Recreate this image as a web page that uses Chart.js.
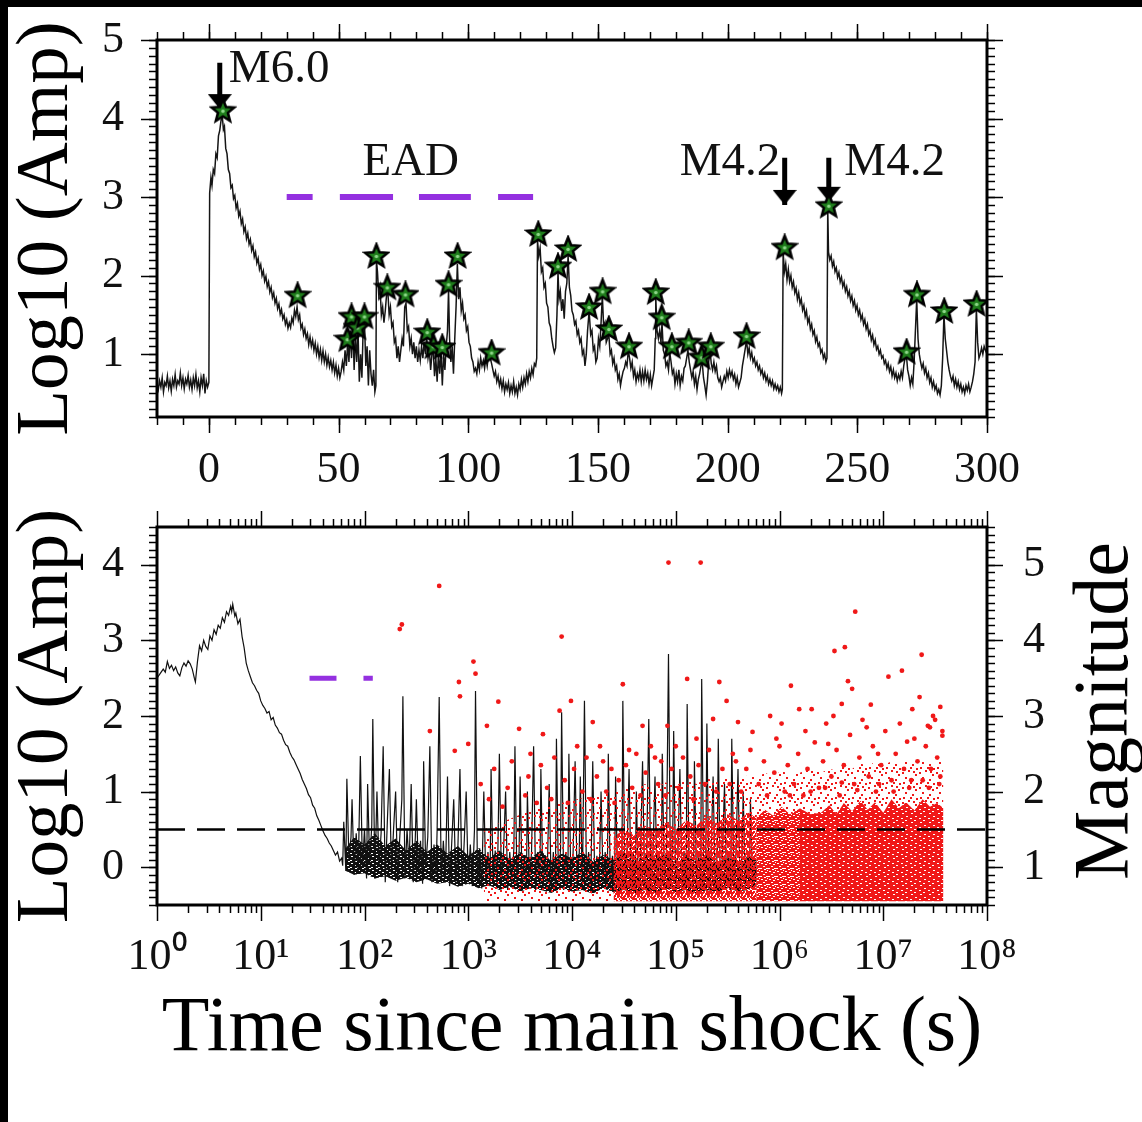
<!DOCTYPE html>
<html>
<head>
<meta charset="utf-8">
<script src="https://cdn.jsdelivr.net/npm/chart.js"></script>
<style>
html, body { margin: 0; padding: 0; background: #fff; }
#page { position: relative; width: 1142px; height: 1122px; overflow: hidden; background: #fff; }
canvas { position: absolute; left: 0; }
#mag { position: absolute; left: 1101px; top: 711px; transform: translate(-50%, -50%) rotate(-90deg);
       font: 78px 'Liberation Serif', serif; line-height: 1; white-space: nowrap; color: #000; }
.edge { position: absolute; background: #000; }
</style>
</head>
<body>
<div id="page">
  <canvas id="upper" width="1142" height="500" style="top:0"></canvas>
  <canvas id="lower" width="1142" height="652" style="top:470px"></canvas>
  <div id="mag">Magnitude</div>
  <div class="edge" style="left:0;top:0;width:1142px;height:7px"></div>
  <div class="edge" style="left:0;top:0;width:8px;height:1122px"></div>
</div>
<script>
// ---- upper panel: amplitude vs time (s), linear axis ----
// [time s, log10 amp]
const topTrace = [
  [-20,0.62],[-19.5,0.55],[-19,0.66],[-18.5,0.58],[-18,0.7],[-17.5,0.52],[-17,0.64],[-16.5,0.6],[-16,0.72],[-15.5,0.57],
  [-15,0.66],[-14.5,0.53],[-14,0.68],[-13.5,0.6],[-13,0.74],[-12.5,0.58],[-12,0.66],[-11.5,0.62],[-11,0.76],[-10.5,0.6],
  [-10,0.7],[-9.5,0.56],[-9,0.68],[-8.5,0.62],[-8,0.73],[-7.5,0.58],[-7,0.67],[-6.5,0.55],[-6,0.7],[-5.5,0.6],
  [-5,0.74],[-4.5,0.57],[-4,0.66],[-3.5,0.52],[-3,0.7],[-2.5,0.6],[-2,0.75],[-1.5,0.5],[-1,0.66],[-0.5,0.58],[0,0.64],
  [0.3,3.05],[0.8,3.25],[1.2,3.15],[1.7,3.35],[2.2,3.3],[2.7,3.55],[3.2,3.5],[3.7,3.78],[4.2,3.85],[4.7,3.98],
  [5.2,4.02],[5.6,3.86],[6,3.9],[6.5,3.62],[7,3.55],[7.5,3.35],[8,3.3],[8.5,3.12],[9,3.15],[9.5,2.98],
  [10,3.02],[10.5,2.86],[11,2.92],[11.5,2.76],[12,2.82],[12.5,2.66],[13,2.72],[13.5,2.56],[14,2.62],[14.5,2.47],
  [15,2.54],[15.5,2.4],[16,2.46],[16.5,2.32],[17,2.38],[17.5,2.24],[18,2.3],[18.5,2.16],[19,2.22],[19.5,2.08],
  [20,2.14],[20.5,2.0],[21,2.06],[21.5,1.93],[22,1.99],[22.5,1.86],[23,1.92],[23.5,1.79],[24,1.85],[24.5,1.72],
  [25,1.78],[25.5,1.65],[26,1.71],[26.5,1.58],[27,1.64],[27.5,1.51],[28,1.57],[28.5,1.45],[29,1.5],[29.5,1.38],
  [30,1.44],[30.5,1.33],[31,1.4],[31.5,1.34],[32,1.46],[32.5,1.4],[33,1.56],[33.5,1.48],[34,1.6],[34.5,1.44],
  [35,1.5],[35.5,1.33],[36,1.38],[36.5,1.25],[37,1.32],[37.5,1.2],[38,1.26],[38.5,1.12],[39,1.22],[39.5,1.1],
  [40,1.18],[40.5,1.05],[41,1.14],[41.5,1.0],[42,1.1],[42.5,0.96],[43,1.06],[43.5,0.92],[44,1.04],[44.5,0.9],
  [45,1.0],[45.5,0.86],[46,0.96],[46.5,0.84],[47,0.92],[47.5,0.8],[48,0.9],[48.5,0.76],[49,0.86],[49.5,0.72],
  [50,0.82],[50.5,0.7],[51,0.78],[51.5,0.9],[52,0.8],[52.5,1.05],[53,0.85],[53.5,1.15],[54,0.9],[54.5,1.3],
  [55,0.95],[55.5,1.4],[56,0.8],[56.5,1.25],[57,0.9],[57.5,1.3],[58,0.65],[58.5,1.0],[59,0.7],[59.5,1.35],
  [60,1.4],[60.5,0.85],[61,1.1],[61.5,0.6],[62,1.05],[62.5,0.75],[63,0.6],[63.5,0.8],[64,0.52],[64.4,0.6],
  [64.6,2.2],[65,2.05],[65.5,1.75],[66,1.85],[66.5,1.5],[67,1.6],[67.5,1.4],[68,1.55],[68.5,1.75],[69,1.8],
  [69.5,1.5],[70,1.6],[70.5,1.35],[71,1.4],[71.5,1.15],[72,1.2],[72.5,0.95],[73,1.1],[73.5,0.9],[74,1.05],
  [74.5,1.2],[75,1.1],[75.5,1.6],[76,1.65],[76.5,1.3],[77,1.35],[77.5,1.1],[78,1.2],[78.5,1.0],[79,1.15],
  [79.5,0.95],[80,1.1],[80.5,0.9],[81,1.05],[81.5,0.92],[82,1.1],[82.5,0.95],[83,1.15],[83.5,1.0],[84,1.22],
  [84.5,0.95],[85,1.05],[85.5,0.8],[86,1.0],[86.5,1.05],[87,0.72],[87.5,0.95],[88,0.65],[88.5,1.0],[89,0.75],
  [89.5,1.05],[90,0.6],[90.5,1.0],[91,0.8],[91.5,1.1],[92,1.3],[92.4,1.82],[92.8,1.2],[93.3,0.9],[93.8,1.1],
  [94.3,0.75],[94.8,1.2],[95.3,1.6],[95.8,2.15],[96.3,1.7],[96.8,1.85],[97.3,1.55],[97.8,1.65],[98.3,1.45],[98.8,1.5],
  [99.3,1.3],[99.8,1.35],[100.3,1.15],[100.8,1.1],[101.3,0.95],[101.8,0.9],[102.3,0.78],[102.8,0.82],[103.3,0.75],[103.8,0.9],
  [104.3,0.8],[104.8,0.95],[105.3,0.85],[105.8,0.92],[106.3,0.82],[106.8,0.95],[107.3,0.85],[107.8,0.98],[108.5,0.95],[109,0.88],
  [109.5,0.8],[110,0.72],[110.5,0.78],[111,0.65],[111.5,0.72],[112,0.6],[112.5,0.68],[113,0.56],[113.5,0.66],[114,0.52],
  [114.5,0.62],[115,0.55],[115.5,0.64],[116,0.5],[116.5,0.6],[117,0.52],[117.5,0.65],[118,0.5],[118.5,0.58],[119,0.48],
  [119.5,0.62],[120,0.55],[120.5,0.68],[121,0.58],[121.5,0.7],[122,0.62],[122.5,0.75],[123,0.65],[123.5,0.78],[124,0.7],
  [124.5,0.82],[125,0.74],[125.5,0.88],[126,0.85],[126.4,0.95],[126.7,2.45],[127.2,2.25],[127.7,2.35],[128.2,2.05],[128.7,2.1],
  [129.2,1.85],[129.7,1.9],[130.2,1.65],[130.7,1.6],[131.2,1.4],[131.7,1.35],[132.2,1.2],[132.7,1.1],[133.2,1.02],[133.7,1.08],
  [134.2,1.5],[134.6,2.05],[135,1.7],[135.5,1.8],[136,1.55],[136.5,1.7],[137,1.45],[137.5,1.8],[138,1.9],[138.5,2.25],
  [139,1.85],[139.5,1.75],[140,1.55],[140.5,1.5],[141,1.38],[141.5,1.42],[142,1.25],[142.5,1.3],[143,1.15],[143.5,1.2],
  [144,1.0],[144.5,1.05],[145,0.85],[145.5,1.0],[146,1.3],[146.6,1.55],[147.2,1.25],[147.7,1.3],[148.2,1.05],[148.7,1.1],
  [149.2,0.9],[149.7,0.95],[150.2,1.2],[150.7,1.1],[151.2,1.4],[151.7,1.75],[152.2,1.35],[152.7,1.4],[153.2,1.15],[153.7,1.2],
  [154.2,1.25],[154.7,1.0],[155.2,1.05],[155.7,0.88],[156.2,0.95],[156.7,0.8],[157.2,0.85],[157.7,0.68],[158.2,0.75],[158.7,0.6],
  [159.2,0.7],[159.7,0.78],[160.2,0.82],[160.7,0.9],[161.2,0.85],[161.7,1.05],[162.2,0.95],[162.7,0.82],[163.2,0.9],[163.7,0.72],
  [164.2,0.8],[164.7,0.65],[165.2,0.75],[165.7,0.68],[166.2,0.8],[166.7,0.65],[167.2,0.78],[167.7,0.66],[168.2,0.8],[168.7,0.68],
  [169.2,0.76],[169.7,0.62],[170.2,0.74],[170.7,0.6],[171.2,0.7],[171.7,0.8],[172.1,1.2],[172.3,1.72],[172.8,1.3],[173.3,1.2],
  [173.8,1.3],[174.3,1.15],[174.7,1.4],[175.2,1.05],[175.7,1.0],[176.2,0.85],[176.7,0.9],[177.2,0.8],[177.7,1.02],[178.2,0.9],
  [178.7,0.75],[179.2,0.8],[179.7,0.62],[180.2,0.75],[180.7,0.65],[181.2,0.8],[181.7,0.6],[182.2,0.72],[182.7,0.66],[183.2,0.82],
  [183.7,0.85],[184.2,0.95],[184.7,1.05],[185.2,0.9],[185.7,0.8],[186.2,0.7],[186.7,0.78],[187.2,0.62],[187.7,0.72],[188.2,0.55],
  [188.7,0.68],[189.2,0.75],[189.7,0.85],[190.2,0.9],[190.7,0.7],[191.2,0.6],[191.7,0.48],[192.2,0.65],[192.7,0.9],[193.2,1.05],
  [193.7,0.88],[194.2,0.8],[194.7,0.9],[195.2,0.78],[195.7,0.85],[196.2,0.7],[196.7,0.65],[197.2,0.7],[197.7,0.58],[198.2,0.65],
  [198.7,0.72],[199.2,0.66],[199.7,0.78],[200.2,0.7],[200.7,0.8],[201.2,0.72],[201.7,0.78],[202.2,0.68],[202.7,0.74],[203.2,0.62],
  [203.7,0.7],[204.2,0.58],[204.7,0.64],[205.2,0.7],[205.7,0.85],[206.2,0.95],[206.7,1.05],[207.3,1.18],[207.8,1.0],[208.3,1.08],
  [208.8,0.95],[209.3,1.02],[209.8,0.9],[210.3,0.95],[210.8,0.85],[211.3,0.9],[211.8,0.8],[212.3,0.85],[212.8,0.75],[213.3,0.8],
  [213.8,0.7],[214.3,0.76],[214.8,0.66],[215.3,0.72],[215.8,0.62],[216.3,0.68],[216.8,0.6],[217.3,0.66],[217.8,0.56],[218.3,0.62],
  [218.8,0.55],[219.3,0.6],[219.8,0.52],[220.3,0.58],[220.8,0.5],[221.1,0.55],[221.4,2.3],[221.9,2.05],[222.4,2.15],[222.9,1.95],
  [223.4,2.08],[223.9,1.92],[224.4,2.0],[224.9,1.85],[225.4,1.92],[225.9,1.78],[226.4,1.84],[226.9,1.7],[227.4,1.78],[227.9,1.64],
  [228.4,1.7],[228.9,1.56],[229.4,1.62],[229.9,1.48],[230.4,1.55],[230.9,1.4],[231.4,1.46],[231.9,1.32],[232.4,1.38],[232.9,1.25],
  [233.4,1.3],[233.9,1.16],[234.4,1.22],[234.9,1.1],[235.4,1.14],[235.9,1.02],[236.4,1.06],[236.9,0.95],[237.4,1.0],[237.9,0.9],
  [238.3,0.95],[238.6,2.85],[238.9,2.3],[239.4,2.2],[239.9,2.25],[240.4,2.12],[240.9,2.18],[241.4,2.05],[241.9,2.1],[242.4,1.98],
  [242.9,2.04],[243.4,1.92],[243.9,1.98],[244.4,1.86],[244.9,1.92],[245.4,1.8],[245.9,1.86],[246.4,1.74],[246.9,1.8],[247.4,1.68],
  [247.9,1.74],[248.4,1.62],[248.9,1.68],[249.4,1.56],[249.9,1.62],[250.4,1.5],[250.9,1.56],[251.4,1.44],[251.9,1.5],[252.4,1.38],
  [252.9,1.44],[253.4,1.32],[253.9,1.38],[254.4,1.25],[254.9,1.3],[255.4,1.18],[255.9,1.24],[256.4,1.12],[256.9,1.18],[257.4,1.06],
  [257.9,1.1],[258.4,1.0],[258.9,1.05],[259.4,0.95],[259.9,0.98],[260.4,0.88],[260.9,0.92],[261.4,0.82],[261.9,0.88],[262.4,0.78],
  [262.9,0.84],[263.4,0.72],[263.9,0.8],[264.4,0.7],[264.9,0.76],[265.4,0.66],[265.9,0.74],[266.4,0.68],[266.9,0.78],[267.4,0.7],
  [267.9,0.85],[268.4,0.95],[268.9,1.0],[269.4,0.8],[269.9,0.72],[270.4,0.6],[270.9,0.7],[271.4,0.62],[271.9,0.9],[272.4,1.3],
  [272.9,1.7],[273.4,1.2],[273.9,1.0],[274.4,0.9],[274.9,0.82],[275.4,0.88],[275.9,0.76],[276.4,0.82],[276.9,0.7],[277.4,0.76],
  [277.9,0.64],[278.4,0.7],[278.9,0.58],[279.4,0.65],[279.9,0.55],[280.4,0.6],[280.9,0.5],[281.4,0.55],[281.9,0.48],[282.4,0.6],
  [282.9,0.95],[283.4,1.5],[283.9,1.2],[284.4,1.05],[284.9,0.9],[285.4,0.8],[285.9,0.72],[286.4,0.66],[286.9,0.72],[287.4,0.6],
  [287.9,0.68],[288.4,0.58],[288.9,0.65],[289.4,0.55],[289.9,0.62],[290.4,0.52],[290.9,0.58],[291.4,0.5],[291.9,0.6],[292.4,0.54],
  [292.9,0.62],[293.4,0.52],[293.9,0.58],[294.4,0.65],[294.9,0.75],[295.4,0.9],[295.9,1.58],[296.4,1.15],[296.9,0.95],[297.4,1.0],
  [297.9,1.08],[298.4,1.0],[298.9,1.1],[299.4,1.05],[300,1.0]
];

const starTime = [5.4,34.2,53.4,55,57.3,60,64.6,68.8,75.8,84.2,86.6,90,92.4,95.9,109,127,134.6,138.5,
                  146.6,151.8,154.2,162,172.3,174.6,178.5,185,190,193.5,207.3,222,239,269,273,283.5,296];
const starAmp  = [4.1,1.75,1.19,1.48,1.34,1.48,2.25,1.85,1.76,1.28,1.1,1.09,1.89,2.25,1.02,2.53,2.12,2.34,
                  1.6,1.8,1.32,1.1,1.79,1.47,1.1,1.15,0.96,1.1,1.23,2.36,2.89,1.03,1.76,1.55,1.64];

const eadStart = [30, 50.5, 81, 111.5];
const eadEnd   = [40, 71, 101, 125];
const eadLevel = 3;

const arrowTime = [4.2, 222, 239];
const arrowTop  = [4.71, 3.5, 3.5];
const arrowTip  = [4.12, 2.9, 2.94];

const noteText = ['M6.0', 'EAD', 'M4.2', 'M4.2'];
const noteTime = [7.7, 59.2, 181.5, 245];
const noteAmp  = [4.46, 3.28, 3.28, 3.28];

const topTimeTicks = [0, 50, 100, 150, 200, 250, 300];
const topAmpTicks = [1, 2, 3, 4, 5];

// ---- lower panel: log time axis ----
// [log10 time s, log10 amp]
const lowTrace = [
  [0,2.5],[0.03,2.56],[0.06,2.62],[0.08,2.58],[0.1,2.72],[0.12,2.63],[0.14,2.67],[0.16,2.6],[0.18,2.65],[0.2,2.57],
  [0.22,2.53],[0.24,2.64],[0.26,2.7],[0.28,2.66],[0.3,2.73],[0.32,2.69],[0.34,2.62],[0.36,2.5],[0.37,2.45],[0.39,2.72],
  [0.41,2.93],[0.43,2.86],[0.45,3.0],[0.47,2.92],[0.49,2.88],[0.51,3.06],[0.53,3.0],[0.55,3.14],[0.57,3.08],[0.59,3.2],
  [0.61,3.16],[0.63,3.3],[0.65,3.24],[0.67,3.38],[0.69,3.33],[0.71,3.45],[0.72,3.38],[0.73,3.48],[0.75,3.32],[0.76,3.36],
  [0.78,3.22],[0.8,3.28],[0.82,3.05],[0.84,2.9],[0.86,2.7],[0.88,2.6],[0.9,2.52],[0.92,2.44],[0.94,2.4],[0.96,2.34],
  [0.98,2.3],[1.0,2.2],[1.02,2.14],[1.04,2.1],[1.06,2.04],[1.08,2.06],[1.1,1.95],[1.12,1.98],[1.14,1.88],[1.16,1.84],
  [1.18,1.78],[1.2,1.76],[1.22,1.68],[1.24,1.62],[1.26,1.6],[1.28,1.52],[1.3,1.46],[1.32,1.42],[1.34,1.36],[1.36,1.3],
  [1.38,1.24],[1.4,1.16],[1.42,1.1],[1.44,1.04],[1.46,0.96],[1.48,0.92],[1.5,0.82],[1.52,0.78],[1.54,0.68],[1.56,0.62],
  [1.58,0.55],[1.6,0.48],[1.62,0.42],[1.64,0.38],[1.66,0.32],[1.68,0.28],[1.7,0.22],[1.72,0.16],[1.74,0.2],[1.76,0.08],
  [1.78,0.12],[1.79,0.02],
  [1.8,0.6],[1.82,-0.05],[1.83,1.17],[1.85,0.1],[1.87,0.4],[1.88,0.9],[1.9,-0.1],[1.92,0.45],[1.94,-0.05],[1.96,1.47],
  [1.98,0.0],[2.0,0.5],[2.02,-0.15],[2.03,1.1],[2.05,0.05],[2.07,0.55],[2.08,1.96],[2.1,-0.15],[2.12,1.0],[2.14,0.0],
  [2.16,0.45],[2.18,1.6],[2.2,-0.2],[2.22,0.6],[2.24,1.3],[2.26,-0.1],[2.28,0.5],[2.3,1.0],[2.32,-0.2],[2.34,0.4],
  [2.36,0.9],[2.37,2.26],[2.39,-0.15],[2.41,0.5],[2.43,0.0],[2.45,1.1],[2.47,-0.2],[2.49,0.4],[2.5,0.9],[2.52,-0.1],
  [2.54,0.35],[2.56,-0.22],[2.57,1.4],[2.59,0.0],[2.61,0.4],[2.63,1.6],[2.65,-0.2],[2.67,0.3],[2.69,-0.1],[2.7,0.5],
  [2.72,2.25],[2.74,-0.2],[2.76,0.35],[2.78,-0.15],[2.8,1.2],[2.82,-0.25],[2.84,0.3],[2.86,0.9],[2.88,-0.2],[2.9,0.25],
  [2.92,1.3],[2.94,-0.25],[2.96,0.3],[2.98,1.0],[3.0,-0.2],[3.02,0.3],[3.04,-0.25],[3.06,0.5],[3.07,2.33],[3.09,-0.2],
  [3.11,0.25],[3.13,-0.28],[3.15,1.0],[3.17,-0.2],[3.19,0.2],[3.21,-0.25],[3.22,1.3],[3.24,-0.2],[3.26,0.22],[3.28,-0.28],
  [3.3,1.5],[3.32,-0.2],[3.34,0.2],[3.36,1.0],[3.38,-0.3],[3.4,0.2],[3.42,-0.2],[3.44,0.25],[3.45,1.6],[3.47,-0.25],
  [3.49,0.2],[3.5,1.2],[3.52,-0.3],[3.54,0.15],[3.56,-0.25],[3.57,1.0],[3.59,-0.2],[3.61,0.2],[3.63,1.6],[3.65,-0.3],
  [3.67,0.2],[3.69,-0.25],[3.7,1.3],[3.72,-0.3],[3.74,0.15],[3.76,-0.2],[3.78,1.1],[3.8,-0.3],[3.82,0.2],[3.84,-0.25],
  [3.85,1.7],[3.87,-0.2],[3.89,0.25],[3.9,2.05],[3.92,-0.3],[3.94,0.2],[3.96,-0.2],[3.97,1.5],[3.99,-0.3],[4.01,0.15],
  [4.03,1.4],[4.05,-0.25],[4.07,0.2],[4.08,1.2],[4.1,-0.3],[4.12,2.2],[4.14,-0.2],[4.16,0.2],[4.18,-0.3],[4.2,1.4],
  [4.22,-0.25],[4.24,0.15],[4.26,-0.3],[4.28,1.0],[4.3,-0.2],[4.32,0.2],[4.34,-0.3],[4.35,1.5],[4.37,-0.25],[4.39,0.15],
  [4.41,-0.3],[4.42,1.2],[4.44,-0.2],[4.46,0.2],[4.48,-0.3],[4.49,2.2],[4.51,-0.25],[4.53,0.15],[4.55,1.3],[4.57,-0.3],
  [4.59,0.2],[4.61,-0.25],[4.62,1.0],[4.64,-0.3],[4.66,0.15],[4.68,1.4],[4.7,-0.25],[4.72,0.2],[4.74,1.96],[4.76,-0.3],
  [4.78,0.15],[4.8,1.2],[4.82,-0.25],[4.84,0.2],[4.86,-0.3],[4.87,1.5],[4.89,-0.2],[4.91,0.2],[4.93,2.82],[4.95,-0.25],
  [4.97,0.2],[4.98,1.8],[5.0,-0.3],[5.02,0.15],[5.04,1.3],[5.06,-0.25],[5.08,0.2],[5.1,-0.3],[5.11,2.16],[5.13,-0.25],
  [5.15,0.15],[5.17,-0.3],[5.18,1.4],[5.2,-0.2],[5.22,0.2],[5.24,-0.3],[5.25,2.49],[5.27,-0.2],[5.29,0.2],[5.3,1.9],
  [5.32,-0.3],[5.34,0.15],[5.36,1.2],[5.38,-0.25],[5.4,0.2],[5.41,1.7],[5.43,-0.3],[5.45,0.15],[5.47,1.1],[5.49,-0.25],
  [5.51,0.2],[5.53,-0.3],[5.54,1.7],[5.56,-0.2],[5.58,0.15],[5.6,1.3],[5.62,-0.3],[5.64,0.2],[5.65,1.0],[5.67,-0.25],
  [5.69,0.15],[5.71,-0.3],[5.72,0.9],[5.74,-0.2],[5.76,0.1],[5.78,-0.1]
];

// envelope of the dense part of the record (log10 amp)
const noiseLogT = [1.82, 1.9, 2.0, 2.1, 2.2, 2.3, 2.4, 2.5, 2.6, 2.7, 2.8, 2.9, 3.0, 3.1, 3.2, 3.3, 3.4, 3.5, 3.6, 3.7,
                   3.8, 3.9, 4.0, 4.1, 4.2, 4.3, 4.4, 4.5, 4.6, 4.7, 4.8, 4.9, 5.0, 5.1, 5.2, 5.3, 5.4, 5.5, 5.6, 5.7, 5.78];
const noiseHigh = [0.25, 0.4, 0.3, 0.45, 0.28, 0.38, 0.22, 0.35, 0.2, 0.3, 0.18, 0.28, 0.15, 0.25, 0.12, 0.22, 0.1, 0.2, 0.12, 0.22,
                   0.08, 0.18, 0.12, 0.2, 0.08, 0.16, 0.1, 0.2, 0.06, 0.15, 0.1, 0.18, 0.05, 0.14, 0.08, 0.16, 0.05, 0.12, 0.08, 0.14, 0.1];
const noiseLow  = [-0.05, -0.1, -0.08, -0.15, -0.12, -0.18, -0.14, -0.2, -0.16, -0.22, -0.2, -0.26, -0.22, -0.28, -0.24, -0.3, -0.26, -0.32, -0.28, -0.3,
                   -0.34, -0.28, -0.32, -0.3, -0.35, -0.28, -0.33, -0.3, -0.35, -0.3, -0.34, -0.28, -0.33, -0.3, -0.35, -0.3, -0.33, -0.28, -0.32, -0.3, -0.26];

// catalogue events: [log10 time s, magnitude]
const quakes = [
  [2.34,4.15],[2.36,4.21],[2.72,4.72],[3.9,4.05],[4.93,5.03],[5.24,5.03],[6.73,4.38],[6.53,3.86],[6.63,3.91],[7.37,3.81],
  [2.63,2.8],[2.87,2.54],[2.91,3.45],[2.92,3.26],[3.0,2.63],[3.05,3.72],[3.07,3.56],[3.18,2.87],[3.29,3.19],[3.49,2.83],
  [3.6,2.5],[3.72,2.76],[3.88,3.07],[3.99,3.2],[4.05,2.6],[4.2,2.92],[4.3,2.4],[4.49,3.42],[4.55,2.55],[4.68,2.87],
  [4.8,2.45],[4.92,2.87],[5.0,2.6],[5.11,3.49],[5.2,2.7],[5.36,2.96],[5.42,3.45],[5.49,3.2],[5.55,2.5],[5.6,2.92],
  [5.74,2.79],[5.91,3.0],[6.11,3.4],[6.19,3.09],[6.31,3.09],[6.47,2.63],[6.6,3.16],[6.66,3.46],[6.7,3.36],[6.84,2.85],
  [6.95,2.5],[7.05,3.52],[7.18,3.6],[7.23,2.66],[7.28,3.09],[7.43,2.87],[7.55,3.12],[7.57,2.74],[7.5,2.95],
  [3.12,2.1],[3.2,1.9],[3.25,2.3],[3.33,1.8],[3.38,2.05],[3.42,2.4],[3.55,1.95],[3.58,2.2],[3.66,1.85],[3.7,2.35],
  [3.76,2.05],[3.8,1.9],[3.83,2.45],[3.93,2.15],[3.96,1.85],[4.02,2.3],[4.1,2.0],[4.14,2.45],[4.18,1.9],[4.24,2.2],
  [4.27,2.6],[4.33,2.0],[4.38,2.3],[4.41,1.85],[4.45,2.15],[4.52,2.35],[4.58,2.05],[4.62,2.5],[4.66,1.95],[4.71,2.25],
  [4.76,2.6],[4.83,2.1],[4.86,2.4],[4.9,1.95],[4.96,2.3],[5.03,2.05],[5.07,2.45],[5.14,2.2],[5.17,1.9],[5.22,2.35],
  [5.28,2.1],[5.32,2.55],[5.39,2.0],[5.45,2.3],[5.52,2.1],[5.58,2.4],[5.63,2.0],[5.68,2.3],[5.72,2.55],[5.8,2.1],
  [5.85,2.4],[5.88,1.95],[5.95,2.25],[6.0,2.6],[6.05,2.0],[6.08,2.35],[6.14,2.1],[6.18,2.5],[6.23,1.95],[6.27,2.3],
  [6.34,2.65],[6.38,2.05],[6.42,2.4],[6.45,2.9],[6.5,2.2],[6.55,2.55],[6.58,1.95],[6.62,2.35],[6.68,2.75],[6.72,2.1],
  [6.77,2.45],[6.8,2.95],[6.86,2.2],[6.9,2.6],[6.93,2.0],[6.98,2.35],[7.02,2.8],[7.08,2.15],[7.12,2.5],[7.16,2.9],
  [7.2,2.3],[7.25,2.05],[7.3,2.7],[7.33,2.4],[7.38,2.15],[7.41,2.6],[7.46,2.3],[7.48,3.0],[7.52,2.45],[7.55,2.2],
  [7.57,2.8],[7.35,3.25],[7.45,2.85],[6.88,3.15],[6.52,3.0],[6.25,2.8],[6.02,2.9],[5.97,2.7],
  [6.44,2.05],[6.6,2.12],[6.75,2.02],[6.96,2.1],[7.1,2.0],[7.27,2.15],[7.44,2.05],[7.54,2.1],[6.3,2.0],[6.1,1.95]
];

// envelopes of the crowded part of the catalogue (magnitude)
const redFloor = 0.55;
const earlyBandLogT = [3.15, 3.6, 4.05, 4.4];
const earlyBandHigh = [1.5, 1.75, 1.9, 2.0];
const midBandLogT = [4.4, 4.5, 4.6, 4.7, 4.8, 4.9, 5.0, 5.1, 5.2, 5.3, 5.4, 5.5, 5.6, 5.7, 5.78];
const midBandHigh = [1.4, 1.5, 1.42, 1.55, 1.48, 1.6, 1.5, 1.62, 1.55, 1.68, 1.58, 1.7, 1.62, 1.72, 1.65];
const midHaloHigh = [2.0, 2.05, 2.0, 2.1, 2.05, 2.12, 2.08, 2.15, 2.1, 2.18, 2.12, 2.2, 2.15, 2.22, 2.18];
const transBandLogT = [5.775, 5.86, 5.94, 6.02, 6.1, 6.2];
const transBandHigh = [1.65, 1.76, 1.68, 1.8, 1.7, 1.78];
const transHaloHigh = [2.18, 2.25, 2.2, 2.28, 2.22, 2.25];
const denseBandLogT = [6.195, 6.3, 6.4, 6.48, 6.55, 6.62, 6.7, 6.78, 6.85, 6.92, 7.0, 7.08, 7.15, 7.22, 7.3, 7.38, 7.45, 7.52, 7.58];
const denseBandHigh = [1.78, 1.7, 1.72, 1.82, 1.7, 1.85, 1.74, 1.88, 1.76, 1.86, 1.72, 1.9, 1.78, 1.86, 1.75, 1.9, 1.8, 1.85, 1.78];
const denseHaloHigh = [2.25, 2.3, 2.25, 2.3, 2.28, 2.35, 2.3, 2.38, 2.32, 2.4, 2.35, 2.4, 2.36, 2.42, 2.38, 2.42, 2.4, 2.4, 2.38];

const lowEadStart = [1.47, 1.99];
const lowEadEnd   = [1.73, 2.08];
const lowEadLevel = 2.5;
const threshold = 0.5;

const lowAmpTicks = [0, 1, 2, 3, 4];
const magTicks = [1, 2, 3, 4, 5];
const logTimeTicks = [1, 1e1, 1e2, 1e3, 1e4, 1e5, 1e6, 1e7, 1e8];
const sup = ['\u2070', '\u00b9', '\u00b2', '\u00b3', '\u2074', '\u2075', '\u2076', '\u2077', '\u2078'];

const serif = "'Liberation Serif', 'Times New Roman', serif";
const purple = '#9430e0';
const red = '#f01818';
Chart.defaults.font.family = serif;
Chart.defaults.color = '#000';

// ---- helpers ----
const xy = arr => arr.map(([x, y]) => ({ x, y }));
const logXY = arr => arr.map(([l, y]) => ({ x: Math.pow(10, l), y }));
const zipLog = (ls, ys) => ls.map((l, i) => ({ x: Math.pow(10, l), y: Array.isArray(ys) ? ys[i] : ys }));
function segments(starts, ends, level, toX) {
  const out = [];
  starts.forEach((s, i) => {
    out.push({ x: toX(s), y: level }, { x: toX(ends[i]), y: level }, { x: toX(ends[i]), y: null });
  });
  return out;
}
function shafts() {
  const out = [];
  arrowTime.forEach((t, i) => {
    out.push({ x: t, y: arrowTop[i] }, { x: t, y: arrowTip[i] }, { x: t, y: null });
  });
  return out;
}

function starImage() {
  const c = document.createElement('canvas');
  c.width = c.height = 28;
  const g = c.getContext('2d');
  const r = 12, ri = 5.2, cx = 14, cy = 14.5;
  g.beginPath();
  for (let i = 0; i < 10; i++) {
    const rr = i % 2 ? ri : r;
    const a = -Math.PI / 2 + i * Math.PI / 5;
    g.lineTo(cx + rr * Math.cos(a), cy + rr * Math.sin(a));
  }
  g.closePath();
  g.fillStyle = '#1f7d1c';
  g.fill();
  g.lineWidth = 2.6;
  g.strokeStyle = '#000';
  g.stroke();
  g.fillStyle = '#8fd88a';
  g.beginPath(); g.arc(cx, cy, 1.8, 0, Math.PI * 2); g.fill();
  return c;
}

function headImage() {
  // triangle whose tip sits at the centre of the canvas
  const c = document.createElement('canvas');
  c.width = 24; c.height = 32;
  const g = c.getContext('2d');
  g.fillStyle = '#000';
  g.beginPath(); g.moveTo(0, 1); g.lineTo(24, 1); g.lineTo(12, 16); g.closePath(); g.fill();
  return c;
}

function pattern(w, h, color, dots, solid, holes) {
  const c = document.createElement('canvas');
  c.width = w; c.height = h;
  const g = c.getContext('2d');
  g.fillStyle = color;
  if (solid) g.fillRect(0, 0, w, h);
  dots.forEach(([x, y]) => g.fillRect(x, y, 2, 2));
  (holes || []).forEach(([x, y]) => g.clearRect(x, y, 2, 1));
  return g.createPattern(c, 'repeat');
}
const sparseFill = pattern(17, 15, red, [[1,2],[7,0],[4,7],[11,9],[14,4],[2,12],[9,12],[15,13],[12,1]], false);
const midFill = pattern(10, 10, red, [[0,0],[3,1],[6,0],[8,3],[1,4],[4,5],[7,6],[2,8],[5,8],[9,8],[0,6],[5,3],[3,6],[8,1],
                                      [2,2],[6,2],[0,2],[7,4],[4,8],[9,5],[1,7]], false);
const transFill = pattern(8, 8, red, [], true, [[1,1],[5,2],[3,4],[0,6],[6,6],[4,7],[7,0]]);
const denseFill = pattern(9, 9, red, [], true, [[2,1],[6,4],[1,6],[5,8]]);
const noiseFill = pattern(7, 7, '#111', [], true, [[1,1],[4,3],[0,5],[5,6]]);

// frame with GMT style ticks on all four sides
function frame(specs) {
  return {
    id: 'frame',
    afterDraw(chart) {
      const { ctx, chartArea: a } = chart;
      ctx.save();
      ctx.strokeStyle = '#000';
      ctx.lineWidth = 1.5;
      specs.forEach(s => {
        const sc = chart.scales[s.scale];
        [[s.minor, 8], [s.major, 16]].forEach(([vals, len]) => {
          vals.forEach(v => {
            const p = Math.round(sc.getPixelForValue(v)) + 0.5;
            ctx.beginPath();
            if (s.side === 'bottom') { ctx.moveTo(p, a.bottom); ctx.lineTo(p, a.bottom + len); }
            if (s.side === 'top') { ctx.moveTo(p, a.top); ctx.lineTo(p, a.top - len); }
            if (s.side === 'left') { ctx.moveTo(a.left, p); ctx.lineTo(a.left - len, p); }
            if (s.side === 'right') { ctx.moveTo(a.right, p); ctx.lineTo(a.right + len, p); }
            ctx.stroke();
          });
        });
      });
      ctx.lineWidth = 3;
      ctx.strokeRect(a.left, a.top, a.right - a.left, a.bottom - a.top);
      ctx.restore();
    }
  };
}

const notes = {
  id: 'notes',
  afterDatasetsDraw(chart) {
    const { ctx } = chart;
    ctx.save();
    ctx.font = '47px ' + serif;
    ctx.fillStyle = '#111';
    ctx.textBaseline = 'alphabetic';
    noteText.forEach((t, i) => {
      ctx.fillText(t, chart.scales.x.getPixelForValue(noteTime[i]), chart.scales.y.getPixelForValue(noteAmp[i]));
    });
    ctx.restore();
  }
};

const tickFont = { family: serif, size: 44 };
const titleFont = { family: serif, size: 75, lineHeight: 1.2 };
const setTicks = vals => scale => { scale.ticks = vals.map(v => ({ value: v })); };
// vertical axes: the label gap comes from an undrawn tick length so that
// the tick padding does not push the plot area down
const sideGrid = gap => ({ display: false, drawTicks: true, tickLength: gap });
const hiddenAxis = (type, min, max, size) => ({
  type, position: 'top', min, max, ticks: { display: false }, grid: { display: false, drawTicks: false },
  border: { display: false }, afterFit: s => { s.height = size; }
});

// tick positions for the frame
const range = (a, b, step) => { const o = []; for (let i = a; i <= b; i++) o.push(i * step); return o; };
const topTimeMinor = range(-2, 30, 10);
const topAmpMinor = range(2, 50, 0.1);
const lowAmpMinor = range(-5, 45, 0.1);
const logMinor = [];
for (let n = 0; n < 8; n++) for (let k = 2; k < 10; k++) logMinor.push(k * Math.pow(10, n));

const star = starImage();
const head = headImage();

new Chart(document.getElementById('upper'), {
  type: 'line',
  data: {
    datasets: [
      { data: segments(eadStart, eadEnd, eadLevel, v => v), borderColor: purple, borderWidth: 6,
        borderCapStyle: 'butt', spanGaps: false, order: 5 },
      { data: xy(topTrace), borderColor: '#151515', borderWidth: 1.5, order: 4 },
      { data: shafts(), borderColor: '#000', borderWidth: 5, borderCapStyle: 'butt', spanGaps: false, order: 3 },
      { data: arrowTime.map((t, i) => ({ x: t, y: arrowTip[i] })), showLine: false,
        pointStyle: head, pointRadius: 12, order: 3 },
      { data: starTime.map((t, i) => ({ x: t, y: starAmp[i] })), showLine: false,
        pointStyle: star, pointRadius: 12, order: 1 }
    ]
  },
  options: {
    responsive: false, animation: false, events: [],
    layout: { padding: { top: 0, right: 155, left: 0, bottom: 0 } },
    elements: { point: { radius: 0 }, line: { tension: 0 } },
    plugins: { legend: { display: false }, tooltip: { enabled: false } },
    scales: {
      x: {
        type: 'linear', position: 'bottom', min: -20, max: 300,
        afterBuildTicks: setTicks(topTimeTicks),
        ticks: { font: tickFont, color: '#111', padding: 27, maxRotation: 0, autoSkip: false, callback: v => String(v) },
        grid: { display: false, drawTicks: false, tickLength: 0 }, border: { display: false },
        afterFit: s => { s.height = 83; }
      },
      xTop: hiddenAxis('linear', -20, 300, 40),
      y: {
        type: 'linear', position: 'left', min: 0.2, max: 5,
        afterBuildTicks: setTicks(topAmpTicks),
        ticks: { font: tickFont, color: '#111', padding: 3, callback: v => String(v) },
        grid: sideGrid(30), border: { display: false },
        title: { display: true, text: 'Log10 (Amp)', font: titleFont, color: '#000', padding: { top: 2, bottom: 0 } },
        afterFit: s => { s.width = 157; }
      }
    }
  },
  plugins: [frame([
    { scale: 'x', side: 'bottom', major: topTimeTicks, minor: topTimeMinor },
    { scale: 'x', side: 'top', major: topTimeTicks, minor: topTimeMinor },
    { scale: 'y', side: 'left', major: topAmpTicks, minor: topAmpMinor },
    { scale: 'y', side: 'right', major: topAmpTicks, minor: topAmpMinor }
  ]), notes]
});

const band = (ls, ys, fill, order, axis) => ({
  data: zipLog(ls, ys), yAxisID: axis || 'y2', borderWidth: 0, borderColor: 'rgba(0,0,0,0)',
  fill: fill ? '-1' : false, backgroundColor: fill || 'rgba(0,0,0,0)', order
});

new Chart(document.getElementById('lower'), {
  type: 'line',
  data: {
    datasets: [
      band(noiseLogT, noiseLow, null, 11, 'y'),
      band(noiseLogT, noiseHigh, noiseFill, 11, 'y'),
      { data: logXY(lowTrace), borderColor: '#111', borderWidth: 1.2, order: 10 },
      band(earlyBandLogT, redFloor, null, 8),
      band(earlyBandLogT, earlyBandHigh, sparseFill, 8),
      band(midBandLogT, redFloor, null, 7),
      band(midBandLogT, midBandHigh, midFill, 7),
      band(midBandLogT, midHaloHigh, sparseFill, 7),
      band(transBandLogT, redFloor, null, 6),
      band(transBandLogT, transBandHigh, transFill, 6),
      band(transBandLogT, transHaloHigh, sparseFill, 6),
      band(denseBandLogT, redFloor, null, 6),
      band(denseBandLogT, denseBandHigh, denseFill, 6),
      band(denseBandLogT, denseHaloHigh, sparseFill, 6),
      { data: logXY(quakes), yAxisID: 'y2', showLine: false, pointRadius: 2.4, pointBackgroundColor: red,
        pointBorderWidth: 0, order: 4 },
      { data: [{ x: 1, y: threshold }, { x: 1e8, y: threshold }], borderColor: '#000', borderWidth: 2.5,
        borderDash: [28, 12], order: 2 },
      { data: segments(lowEadStart, lowEadEnd, lowEadLevel, l => Math.pow(10, l)), borderColor: purple,
        borderWidth: 5, borderCapStyle: 'butt', spanGaps: false, order: 2 }
    ]
  },
  options: {
    responsive: false, animation: false, events: [],
    layout: { padding: 0 },
    elements: { point: { radius: 0 }, line: { tension: 0 } },
    plugins: { legend: { display: false }, tooltip: { enabled: false } },
    scales: {
      x: {
        type: 'logarithmic', position: 'bottom', min: 1, max: 1e8,
        afterBuildTicks: setTicks(logTimeTicks),
        ticks: { font: tickFont, color: '#111', padding: 26, maxRotation: 0, autoSkip: false,
                 callback: v => '10' + sup[Math.round(Math.log10(v))] },
        grid: { display: false, drawTicks: false, tickLength: 0 }, border: { display: false },
        title: { display: true, text: 'Time since main shock (s)', font: { family: serif, size: 78, lineHeight: 1.2 },
                 color: '#000', padding: { top: 0, bottom: 46 } },
        afterFit: s => { s.height = 217; }
      },
      xTop: hiddenAxis('logarithmic', 1, 1e8, 57),
      y: {
        type: 'linear', position: 'left', min: -0.5, max: 4.5,
        afterBuildTicks: setTicks(lowAmpTicks),
        ticks: { font: tickFont, color: '#111', padding: 3, callback: v => String(v) },
        grid: sideGrid(30), border: { display: false },
        title: { display: true, text: 'Log10 (Amp)', font: titleFont, color: '#000', padding: { top: 2, bottom: 0 } },
        afterFit: s => { s.width = 157; }
      },
      y2: {
        type: 'linear', position: 'right', min: 0.5, max: 5.5,
        afterBuildTicks: setTicks(magTicks),
        ticks: { font: tickFont, color: '#111', padding: 3, callback: v => String(v) },
        grid: sideGrid(33), border: { display: false },
        afterFit: s => { s.width = 155; }
      }
    }
  },
  plugins: [frame([
    { scale: 'x', side: 'bottom', major: logTimeTicks, minor: logMinor },
    { scale: 'x', side: 'top', major: logTimeTicks, minor: logMinor },
    { scale: 'y', side: 'left', major: lowAmpTicks, minor: lowAmpMinor },
    { scale: 'y', side: 'right', major: lowAmpTicks, minor: lowAmpMinor }
  ])]
});
</script>
</body>
</html>
